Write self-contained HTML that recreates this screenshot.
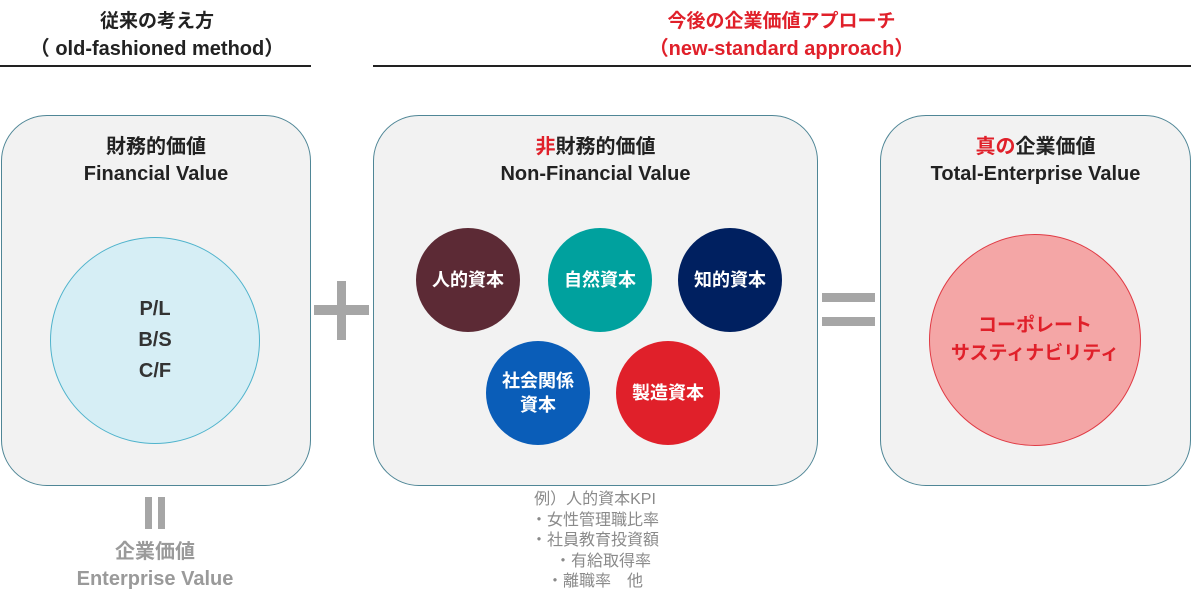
<!DOCTYPE html>
<html><head><meta charset="utf-8"><style>
body{margin:0;width:1192px;height:608px;background:#fff;position:relative;overflow:hidden;font-family:"Liberation Sans","Noto Sans CJK JP",sans-serif;font-weight:bold}
.a{position:absolute}
.t{position:absolute;text-align:center;white-space:nowrap}
.box{position:absolute;background:#f2f2f2;border:1.5px solid #4f8696;border-radius:46px;box-sizing:border-box}
.c{position:absolute;border-radius:50%;display:flex;align-items:center;justify-content:center;text-align:center;color:#fff;font-size:18px;line-height:24px}
</style></head><body>
<div class="t" style="left:0;width:314px;top:6px;font-size:19px;color:#222">従来の考え方</div>
<div class="t" style="left:0;width:314px;top:32px;font-size:20px;color:#222">（ old-fashioned method）</div>
<div class="a" style="left:0;top:65px;width:311px;height:2px;background:#222"></div>
<div class="t" style="left:373px;width:817px;top:6px;font-size:19px;color:#e0202a">今後の企業価値アプローチ</div>
<div class="t" style="left:373px;width:817px;top:32px;font-size:20px;color:#e0202a">（new-standard approach）</div>
<div class="a" style="left:373px;top:65px;width:818px;height:2px;background:#222"></div>

<div class="box" style="left:1px;top:115px;width:310px;height:371px"></div>
<div class="box" style="left:373px;top:115px;width:445px;height:371px"></div>
<div class="box" style="left:880px;top:115px;width:311px;height:371px"></div>

<div class="t" style="left:1px;width:310px;top:134px;font-size:20px;line-height:27px;color:#222">財務的価値<br>Financial Value</div>
<div class="t" style="left:373px;width:445px;top:134px;font-size:20px;line-height:27px;color:#222"><span style="color:#e0202a">非</span>財務的価値<br>Non-Financial Value</div>
<div class="t" style="left:880px;width:311px;top:134px;font-size:20px;line-height:27px;color:#222"><span style="color:#e0202a">真の</span>企業価値<br>Total-Enterprise Value</div>

<div class="c" style="left:50px;top:237px;width:210px;height:207px;background:#d6eef5;border:1px solid #4fb3cc;box-sizing:border-box;color:#333;font-size:20px;line-height:31px;font-weight:bold">P/L<br>B/S<br>C/F</div>

<div class="a" style="left:314px;top:305px;width:55px;height:10px;background:#a6a6a6"></div>
<div class="a" style="left:337px;top:281px;width:9px;height:59px;background:#a6a6a6"></div>
<div class="a" style="left:822px;top:293px;width:53px;height:9px;background:#a6a6a6"></div>
<div class="a" style="left:822px;top:317px;width:53px;height:9px;background:#a6a6a6"></div>

<div class="c" style="left:416px;top:228px;width:104px;height:104px;background:#5c2a35">人的資本</div>
<div class="c" style="left:548px;top:228px;width:104px;height:104px;background:#00a19e">自然資本</div>
<div class="c" style="left:678px;top:228px;width:104px;height:104px;background:#002060">知的資本</div>
<div class="c" style="left:486px;top:341px;width:104px;height:104px;background:#0a5db8">社会関係<br>資本</div>
<div class="c" style="left:616px;top:341px;width:104px;height:104px;background:#e0202a">製造資本</div>

<div class="c" style="left:929px;top:234px;width:212px;height:212px;background:#f4a6a6;border:1px solid #e03a44;box-sizing:border-box;color:#e0202a;font-size:19px;line-height:28px">コーポレート<br>サスティナビリティ</div>

<div class="a" style="left:145px;top:497px;width:7px;height:32px;background:#a6a6a6"></div>
<div class="a" style="left:158px;top:497px;width:7px;height:32px;background:#a6a6a6"></div>
<div class="t" style="left:0;width:310px;top:539px;font-size:20px;line-height:27px;color:#9a9a9a">企業価値<br>Enterprise Value</div>

<div class="t" style="left:395px;width:400px;top:490px;font-size:16px;line-height:20.5px;color:#8a8a8a;font-weight:normal">例）人的資本KPI<br>・女性管理職比率<br>・社員教育投資額<br>　・有給取得率<br>・離職率　他</div>
</body></html>
